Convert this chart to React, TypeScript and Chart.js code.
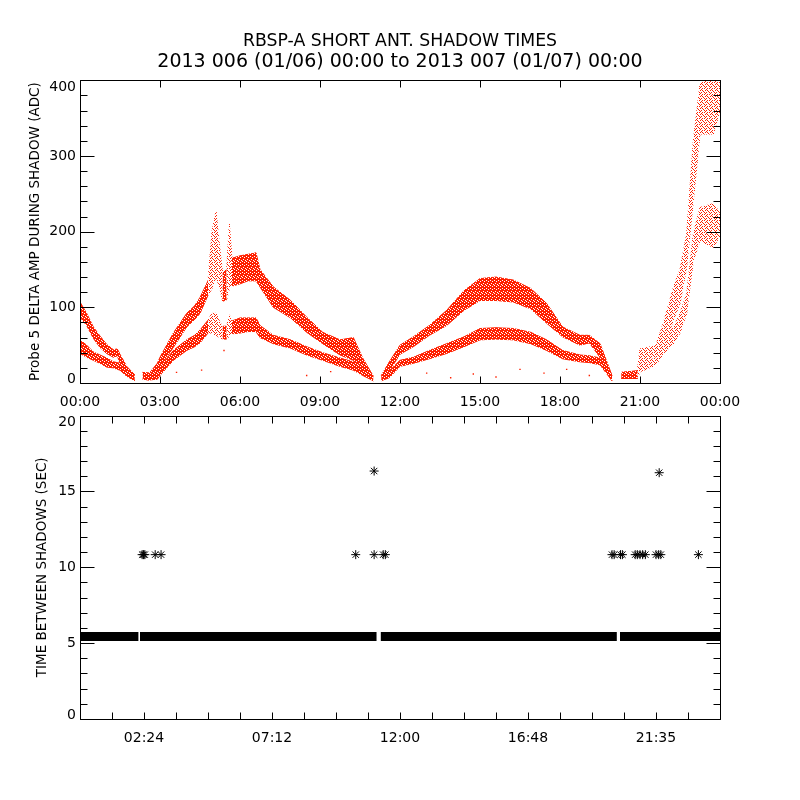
import React, { useEffect, useRef } from 'react';
import { Chart, registerables } from 'chart.js';

Chart.register(...registerables);

const FONT = '"DejaVu Sans", sans-serif';
const RED = 'rgb(255,32,0)';

const titleLine1 = 'RBSP-A SHORT ANT. SHADOW TIMES';
const titleLine2 = '2013 006 (01/06) 00:00 to 2013 007 (01/07) 00:00';
const topYTitle = 'Probe 5 DELTA AMP DURING SHADOW (ADC)';
const bottomYTitle = 'TIME BETWEEN SHADOWS (SEC)';

// ---- top panel: amplitude bands (hours since 00:00) ----
const bandHours = [
  0, 0.25, 0.5, 0.75, 1.0, 1.25, 1.4, 1.5, 1.75, 2.05, 2.2, 2.35, 2.6, 2.9, 3.0, 3.5, 4.0, 4.3, 4.5, 4.8,
  4.95, 5.1, 5.25, 5.35, 5.5, 5.6, 5.7, 6.0, 6.3, 6.6, 6.75, 7.25, 7.9, 8.5, 9.1, 9.75, 10.25, 10.6, 11.0, 11.15,
  11.3, 11.6, 12.0, 12.5, 13.1, 13.75, 14.4, 15.0, 15.6, 16.25, 16.9, 17.5, 18.1, 18.75, 19.1, 19.5, 19.95, 20.1, 20.3, 20.9,
  21.0, 21.3, 21.6, 21.9, 22.25, 22.5, 22.75, 23.0, 23.25, 23.75, 24.0,
];
const upperHi = [
  107, 92, 74, 62, 51, 44, 45, 38, 22, 11, null, 14, 13, 26, 34, 66, 92, 102, 113, 135,
  200, 227, 175, 145, 150, 210, 165, 168, 170, 172, 150, 127, 109, 87, 67, 57, 60, 33, 9, null,
  10, 28, 50, 61, 76, 96, 122, 138, 140, 136, 125, 105, 74, 63, 63, 52, 10, null, 14, 16,
  45, 47, 50, 82, 126, 150, 197, 320, 395, 410, 410,
];
const upperLo = [
  87, 76, 59, 47, 39, 34, 36, 26, 12, 3, null, 5, 4, 12, 21, 47, 74, 84, 92, 116,
  125, 140, 125, 108, 110, 125, 128, 131, 135, 135, 127, 100, 86, 67, 52, 37, 30, 15, 3, null,
  3, 16, 38, 48, 63, 76, 96, 109, 109, 107, 98, 79, 61, 50, 53, 34, 3, null, 6, 6,
  20, 31, 36, 47, 83, 105, 153, 241, 329, 329, 360,
];
const lowerHi = [
  57, 50, 41, 37, 33, 28, 27, 26, 17, 11, null, 14, 13, 16, 21, 43, 57, 63, 70, 83,
  92, 92, 80, 75, 75, 90, 82, 86, 86, 86, 76, 63, 57, 48, 40, 33, 28, 22, 9, null,
  10, 16, 30, 34, 43, 52, 61, 72, 73, 72, 67, 57, 43, 37, 36, 33, 10, null, 14, 16,
  30, 30, 33, 65, 73, 92, 118, 197, 232, 237, 225,
];
const lowerLo = [
  39, 34, 30, 26, 21, 20, 18, 17, 9, 3, null, 5, 4, 5, 10, 30, 43, 48, 53, 66,
  66, 63, 60, 58, 58, 62, 65, 66, 68, 68, 60, 52, 46, 37, 30, 22, 17, 10, 3, null,
  3, 7, 22, 26, 32, 39, 48, 57, 58, 57, 52, 43, 32, 28, 27, 24, 3, null, 6, 6,
  15, 19, 24, 40, 51, 66, 92, 162, 188, 179, 195,
];
const strayHours = [3.62, 4.56, 5.4, 8.5, 9.4, 13.0, 13.9, 14.75, 15.6, 16.5, 17.4, 18.25, 19.1];
const strayValues = [14, 17, 43, 10, 15, 13, 7, 12, 8, 18, 13, 18, 10];
// time ranges where the dots are scattered thinly
const sparseFrom = [4.85, 5.5, 20.95];
const sparseTo = [5.35, 5.7, 24.0];

const topXTickHours = [0, 3, 6, 9, 12, 15, 18, 21, 24];
const topXTickLabels = ['00:00', '03:00', '06:00', '09:00', '12:00', '15:00', '18:00', '21:00', '00:00'];
const topYTickValues = [0, 100, 200, 300, 400];
const topYTickLabels = ['0', '100', '200', '300', '400'];

// ---- bottom panel: time between shadows ----
const mainSegStart = [0, 2.25, 11.28, 20.25];
const mainSegEnd = [2.19, 11.12, 20.13, 24];
const mainValue = 5.44;
const starHours = [
  2.33, 2.38, 2.43, 2.82, 3.04, 10.34, 11.03, 11.03, 11.37, 11.45,
  19.95, 20.03, 20.27, 20.34, 20.82, 20.9, 21.0, 21.1, 21.2, 21.6, 21.7, 21.72, 21.78, 23.19,
];
const starValues = [
  10.83, 10.83, 10.83, 10.83, 10.83, 10.83, 10.83, 16.34, 10.83, 10.83,
  10.83, 10.83, 10.83, 10.83, 10.83, 10.83, 10.83, 10.83, 10.83, 10.83, 10.83, 16.23, 10.83, 10.83,
];
const bottomXTickHours = [2.4, 7.2, 12.0, 16.8, 21.6];
const bottomXTickLabels = ['02:24', '07:12', '12:00', '16:48', '21:35'];
const bottomYTickValues = [0, 5, 10, 15, 20];
const bottomYTickLabels = ['0', '5', '10', '15', '20'];

function range(start: number, end: number, step: number) {
  const out: number[] = [];
  for (let i = 0; start + i * step <= end + 1e-9; i++) out.push(+(start + i * step).toFixed(4));
  return out;
}

const idlFrame = {
  id: 'idlFrame',
  afterDatasetsDraw(chart: any, _args: any, opts: any) {
    const { ctx, chartArea } = chart;
    const { left, right, top, bottom } = chartArea;
    const xs = chart.scales.x;
    const ys = chart.scales.y;
    ctx.save();
    ctx.strokeStyle = '#000';
    ctx.lineWidth = 1;
    ctx.beginPath();
    const L = Math.round(left) + 0.5, R = Math.round(right) + 0.5, T = Math.round(top) + 0.5, B = Math.round(bottom) + 0.5;
    ctx.moveTo(L, T); ctx.lineTo(R, T); ctx.lineTo(R, B); ctx.lineTo(L, B); ctx.closePath();
    (opts.xTicks || []).forEach((v: number) => {
      const p = Math.round(xs.getPixelForValue(v)) + 0.5;
      ctx.moveTo(p, B); ctx.lineTo(p, B - opts.xLen);
      ctx.moveTo(p, T); ctx.lineTo(p, T + opts.xLen);
    });
    const yTick = (v: number, len: number) => {
      const p = Math.round(ys.getPixelForValue(v)) + 0.5;
      ctx.moveTo(L, p); ctx.lineTo(L + len, p);
      ctx.moveTo(R, p); ctx.lineTo(R - len, p);
    };
    (opts.yMinor || []).forEach((v: number) => yTick(v, opts.yMinorLen));
    (opts.yMajor || []).forEach((v: number) => yTick(v, opts.yMajorLen));
    ctx.stroke();
    ctx.restore();
  },
};

function makePattern(color: string, mask: string[]) {
  const pc = document.createElement('canvas');
  pc.width = mask[0].length; pc.height = mask.length;
  const p = pc.getContext('2d')!;
  p.fillStyle = color;
  mask.forEach((row, r) => row.split('').forEach((c, k) => { if (c === '1') p.fillRect(k, r, 1, 1); }));
  return p.createPattern(pc, 'repeat')!;
}

const tickFont = (ctx: any) => {
  const v = ctx.tick ? ctx.tick.value : -1;
  return { family: FONT, size: 14, lineHeight: v === 0 ? 0.55 : 1.0 };
};

function endLabel(label: string, value: number, max: number): any {
  if (value === max) return ['', label];
  if (value === 0) return [label, ''];
  return label;
}

// invisible right-hand axis so the plot box sits at 80..720 while titles stay centred on the page
const rightSpacer = {
  type: 'linear', position: 'right', display: true,
  ticks: { display: false }, grid: { display: false, drawTicks: false }, border: { display: false },
  afterFit: (s: any) => { s.width = 80; s.paddingTop = 0; s.paddingBottom = 0; },
};

export default function App() {
  const topRef = useRef<HTMLCanvasElement>(null);
  const botRef = useRef<HTMLCanvasElement>(null);

  useEffect(() => {
    const dense = makePattern(RED, ['1101', '0111', '1111', '1110', '1011', '1101', '0111', '1111']);
    const sparse = makePattern(RED, ['10100', '00010', '01001', '10000', '00101', '01000']);
    const isSparse = (x: number) => sparseFrom.some((f, i) => x >= f && x <= sparseTo[i]);
    const segStyle = {
      backgroundColor: (c: any) => (isSparse((c.p0.parsed.x + c.p1.parsed.x) / 2) ? sparse : dense),
      borderColor: (c: any) => (isSparse((c.p0.parsed.x + c.p1.parsed.x) / 2) ? sparse : dense),
    };
    const pts = (ys: (number | null)[]) => bandHours.map((h, i) => ({ x: h, y: ys[i] }));
    const bandLine = { borderColor: dense, backgroundColor: dense, borderWidth: 1, pointRadius: 0, spanGaps: false, tension: 0, segment: segStyle };

    const topChart = new Chart(topRef.current!, {
      type: 'line',
      data: {
        datasets: [
          { ...bandLine, data: pts(lowerLo), fill: false },
          { ...bandLine, data: pts(lowerHi), fill: '-1' },
          { ...bandLine, data: pts(upperLo), fill: false },
          { ...bandLine, data: pts(upperHi), fill: '-1' },
          {
            data: strayHours.map((h, i) => ({ x: h, y: strayValues[i] })),
            showLine: false, pointRadius: 1, pointStyle: 'rect', backgroundColor: RED, borderWidth: 0,
          },
        ] as any,
      },
      options: {
        animation: false,
        responsive: false,
        events: [],
        layout: { padding: { left: 0, right: 0, top: 0, bottom: 0 } },
        plugins: {
          legend: { display: false },
          tooltip: { enabled: false },
          title: {
            display: true, text: titleLine1, color: '#000',
            font: { family: FONT, size: 17.3, weight: 'normal', lineHeight: 1 },
            padding: { top: 33, bottom: 0 },
          },
          subtitle: {
            display: true, text: titleLine2, color: '#000',
            font: { family: FONT, size: 19, weight: 'normal', lineHeight: 1 },
            padding: { top: 2, bottom: 9 },
          },
          idlFrame: {
            xTicks: topXTickHours, xLen: 7,
            yMajor: topYTickValues, yMajorLen: 14,
            yMinor: range(0, 400, 20), yMinorLen: 7,
          },
        } as any,
        scales: {
          x: {
            type: 'linear', min: 0, max: 24,
            afterBuildTicks: (s: any) => { s.ticks = topXTickHours.map((v) => ({ value: v })); },
            afterFit: (s: any) => { s.height = 27; s.paddingLeft = 0; s.paddingRight = 0; },
            ticks: {
              autoSkip: false, maxRotation: 0, padding: 12, color: '#000',
              font: { family: FONT, size: 14, lineHeight: 1 },
              callback: (_v: any, i: number) => topXTickLabels[i],
            },
            grid: { display: false, drawTicks: false },
            border: { display: false },
          },
          y: {
            type: 'linear', min: 0, max: 400,
            afterBuildTicks: (s: any) => { s.ticks = topYTickValues.map((v) => ({ value: v })); },
            afterFit: (s: any) => { s.width = 80; s.paddingTop = 0; s.paddingBottom = 0; },
            ticks: {
              autoSkip: false, padding: 4, color: '#000',
              font: tickFont,
              callback: (v: any, i: number) => endLabel(topYTickLabels[i], v, 400),
            },
            grid: { display: false, drawTicks: false },
            border: { display: false },
            title: {
              display: true, text: topYTitle, color: '#000',
              font: { family: FONT, size: 13.5, lineHeight: 1.2 },
              padding: { top: 27, bottom: 0 },
            },
          },
          yR: rightSpacer,
        } as any,
      },
      plugins: [idlFrame],
    });

    const mainData: any[] = [];
    mainSegStart.forEach((s, i) => {
      mainData.push({ x: s, y: mainValue }, { x: mainSegEnd[i], y: mainValue }, { x: mainSegEnd[i], y: null });
    });

    const botChart = new Chart(botRef.current!, {
      type: 'line',
      data: {
        datasets: [
          { data: mainData, borderColor: '#000', borderWidth: 9, pointRadius: 0, spanGaps: false, fill: false, borderCapStyle: 'butt' },
          {
            data: starHours.map((h, i) => ({ x: h, y: starValues[i] })),
            showLine: false, pointStyle: 'star', pointRadius: 4.5, borderColor: '#000', borderWidth: 1, backgroundColor: '#000',
          },
        ] as any,
      },
      options: {
        animation: false,
        responsive: false,
        events: [],
        layout: { padding: { left: 0, right: 0, top: 5, bottom: 0 } },
        plugins: {
          legend: { display: false },
          tooltip: { enabled: false },
          idlFrame: {
            xTicks: range(0, 24, 1.2), xLen: 7,
            yMajor: bottomYTickValues, yMajorLen: 14,
            yMinor: range(0, 20, 1), yMinorLen: 7,
          },
        } as any,
        scales: {
          x: {
            type: 'linear', min: 0, max: 24,
            afterBuildTicks: (s: any) => { s.ticks = bottomXTickHours.map((v) => ({ value: v })); },
            afterFit: (s: any) => { s.height = 81; s.paddingLeft = 0; s.paddingRight = 0; },
            ticks: {
              autoSkip: false, maxRotation: 0, padding: 12, color: '#000',
              font: { family: FONT, size: 14, lineHeight: 1 },
              callback: (_v: any, i: number) => bottomXTickLabels[i],
            },
            grid: { display: false, drawTicks: false },
            border: { display: false },
          },
          y: {
            type: 'linear', min: 0, max: 20,
            afterBuildTicks: (s: any) => { s.ticks = bottomYTickValues.map((v) => ({ value: v })); },
            afterFit: (s: any) => { s.width = 80; s.paddingTop = 0; s.paddingBottom = 0; },
            ticks: {
              autoSkip: false, padding: 4, color: '#000',
              font: tickFont,
              callback: (v: any, i: number) => endLabel(bottomYTickLabels[i], v, 20),
            },
            grid: { display: false, drawTicks: false },
            border: { display: false },
            title: {
              display: true, text: bottomYTitle, color: '#000',
              font: { family: FONT, size: 13.5, lineHeight: 1.2 },
              padding: { top: 34, bottom: 0 },
            },
          },
          yR: rightSpacer,
        } as any,
      },
      plugins: [idlFrame],
    });

    return () => { topChart.destroy(); botChart.destroy(); };
  }, []);

  return (
    <div style={{ position: 'absolute', left: 0, top: 0, width: 800, height: 800, background: '#fff' }}>
      <canvas ref={topRef} width={800} height={410} style={{ position: 'absolute', left: 0, top: 0, width: 800, height: 410 }} />
      <canvas ref={botRef} width={800} height={390} style={{ position: 'absolute', left: 0, top: 410, width: 800, height: 390 }} />
    </div>
  );
}
